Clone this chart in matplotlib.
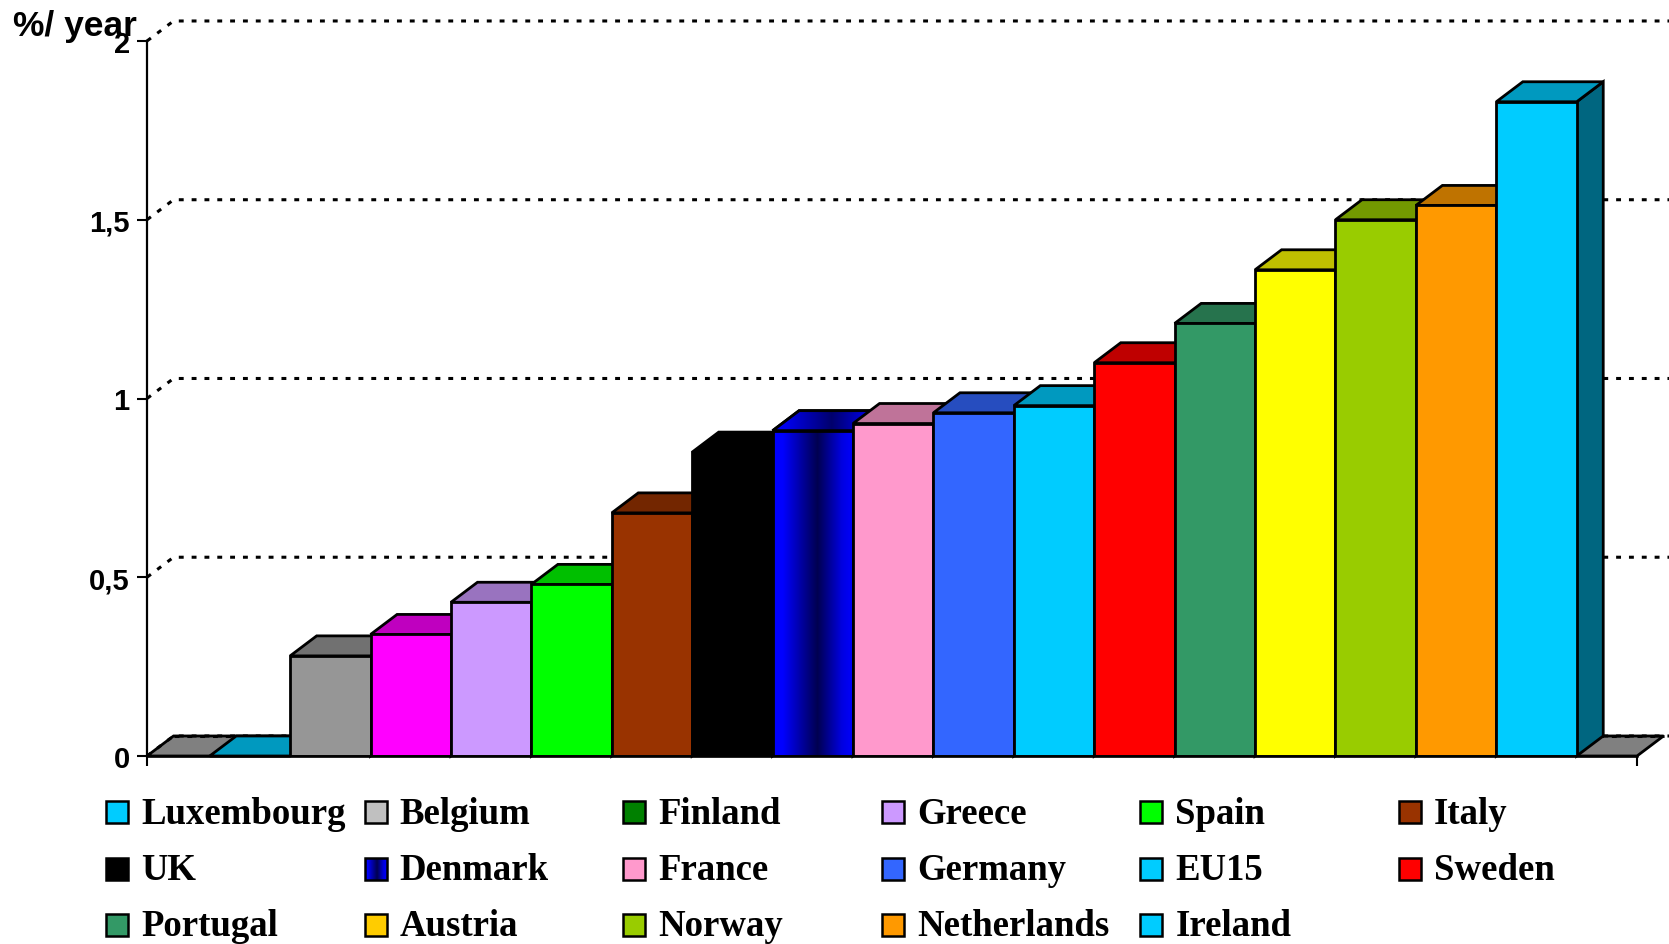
import matplotlib.pyplot as plt
import numpy as np
from matplotlib.patches import Polygon, Rectangle
from matplotlib.colors import to_rgb, LinearSegmentedColormap

countries = ['Luxembourg', 'Belgium', 'Finland', 'Greece', 'Spain', 'Italy',
             'UK', 'Denmark', 'France', 'Germany', 'EU15', 'Sweden',
             'Portugal', 'Austria', 'Norway', 'Netherlands', 'Ireland']
growth = [0.0, 0.28, 0.34, 0.43, 0.48, 0.68,
          0.85, 0.91, 0.93, 0.96, 0.98, 1.10,
          1.21, 1.36, 1.50, 1.54, 1.83]
bar_colors = ['#00CCFF', '#969696', '#FF00FF', '#CC99FF', '#00FF00', '#993300',
              '#000000', '#0000FF', '#FF99CC', '#3366FF', '#00CCFF', '#FF0000',
              '#339966', '#FFFF00', '#99CC00', '#FF9900', '#00CCFF']
legend_colors = ['#00CCFF', '#C0C0C0', '#008000', '#CC99FF', '#00FF00', '#993300',
                 '#000000', '#0000FF', '#FF99CC', '#3366FF', '#00CCFF', '#FF0000',
                 '#339966', '#FFCC00', '#99CC00', '#FF9900', '#00CCFF']
yticks = [0, 0.5, 1, 1.5, 2]
ytick_labels = ['0', '0,5', '1', '1,5', '2']

W, H = 1669, 945
fig = plt.figure(figsize=(W / 100, H / 100), dpi=100)
ax = fig.add_axes([147 / W, 188 / H, 1490 / W, 715 / H])

x = np.arange(len(countries))
xl, xr = -1.28, 16.5 + 0.75
dx, dy = 0.33, 0.056   # depth offset of the 3d boxes
ax.set_xlim(xl, xr)
ax.set_ylim(0, 2)
EW = 2.0  # edge width


def shade(c, f):
    return tuple(v * f for v in to_rgb(c))


# dotted gridlines on the back wall
for v in yticks:
    ax.plot([xl, xl + dx, xr + 2], [v, v + dy, v + dy], color='black', lw=2.2,
            linestyle=(0, (1.6, 2.6)), clip_on=False, zorder=2)

# floor
ax.add_patch(Polygon([(xl, 0), (xr, 0), (xr + dx, dy), (xl + dx, dy)], closed=True,
                     facecolor='#808080', edgecolor='black', lw=EW, zorder=1,
                     clip_on=False))
ax.plot([xl + dx, xr + dx], [dy, dy], color='black', lw=2.2,
        linestyle=(0, (1.6, 2.6)), clip_on=False, zorder=1.5)

# Denmark gets a dark band across the face
blue_grad = LinearSegmentedColormap.from_list(
    'dk', [(0, '#0000FF'), (0.12, '#0000FF'), (0.55, '#000050'), (0.85, '#0000E0'), (1, '#0000FF')])
grad = np.linspace(0, 1, 256).reshape(1, -1)

for i, (xi, v, c) in enumerate(zip(x, growth, bar_colors)):
    z = 3 + i * 3
    l, r = xi - 0.5, xi + 0.5
    top = Polygon([(l, v), (r, v), (r + dx, v + dy), (l + dx, v + dy)], closed=True,
                  facecolor=shade(c, 0.75), edgecolor='black', lw=EW, zorder=z,
                  clip_on=False)
    side = Polygon([(r, 0), (r + dx, dy), (r + dx, v + dy), (r, v)], closed=True,
                   facecolor=shade(c, 0.5), edgecolor='black', lw=EW, zorder=z,
                   clip_on=False)
    ax.add_patch(side)
    ax.add_patch(top)
    bar = ax.bar(xi, v, width=1.0, color=c, edgecolor='black', lw=EW, zorder=z + 1)[0]
    if countries[i] == 'Denmark':
        im = ax.imshow(grad, cmap=blue_grad, extent=[l, r, 0, v], aspect='auto',
                       zorder=z + 1.5)
        im.set_clip_path(bar)
        im2 = ax.imshow(grad, cmap=blue_grad, extent=[l, r + dx, v, v + dy],
                        aspect='auto', zorder=z + 0.5, alpha=0.75)
        im2.set_clip_path(top)
        ax.add_patch(Rectangle((l, 0), 1, v, fill=False, edgecolor='black', lw=EW,
                               zorder=z + 2))
        ax.add_patch(Polygon(top.get_xy(), closed=True, fill=False, edgecolor='black',
                             lw=EW, zorder=z + 0.6, clip_on=False))
ax.set_xlim(xl, xr)
ax.set_ylim(0, 2)

for s in ['top', 'right']:
    ax.spines[s].set_visible(False)
ax.spines['left'].set_linewidth(1.6)
ax.spines['bottom'].set_linewidth(1.8)
ax.spines['bottom'].set_zorder(100)
ax.set_yticks(yticks)
ax.set_yticklabels(ytick_labels, fontsize=21, fontweight='bold',
                   fontfamily='Liberation Sans')
ax.set_xticks([xl, xr])
ax.set_xticklabels([])
ax.tick_params(axis='both', direction='out', length=7.5, width=1.5, pad=5)
ax.patch.set_alpha(0)

fig.text(13 / W, 1 - 36 / H, '%/ year', fontsize=25.5, fontweight='bold',
         fontfamily='Liberation Sans', va='baseline', ha='left')

# legend laid out in 6 columns x 3 rows
lax = fig.add_axes([0, 0, 1, 1])
lax.set_xlim(0, W)
lax.set_ylim(H, 0)
lax.axis('off')
for k, (name, c) in enumerate(zip(countries, legend_colors)):
    row, col = divmod(k, 6)
    sx = 106 + col * 258.6
    cy = 813 + row * 56.5
    if name == 'Denmark':
        sw = Rectangle((sx, cy - 11), 22, 22, facecolor='none', edgecolor='black', lw=1.8)
        lax.add_patch(sw)
        gim = lax.imshow(grad, cmap=blue_grad, extent=[sx, sx + 22, cy + 11, cy - 11],
                         aspect='auto')
        gim.set_clip_path(sw)
    else:
        lax.add_patch(Rectangle((sx, cy - 11), 22, 22, facecolor=c, edgecolor='black',
                                lw=1.8))
    lax.text(sx + 35, cy + 1, name, fontsize=26.5, fontweight='bold',
             fontfamily='Liberation Serif', va='center', ha='left')
lax.set_xlim(0, W)
lax.set_ylim(H, 0)

fig.savefig('out.png', dpi=100)
